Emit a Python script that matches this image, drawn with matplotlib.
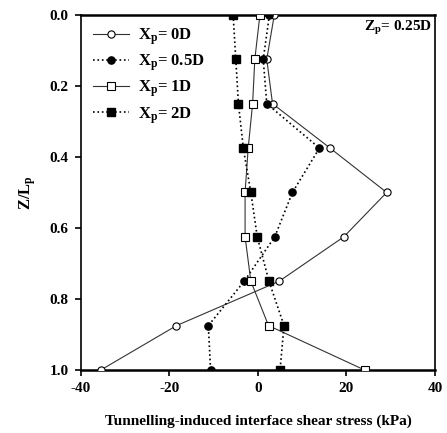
import matplotlib
matplotlib.use("Agg")
import matplotlib.pyplot as plt

depth = [0.0, 0.125, 0.25, 0.375, 0.5, 0.625, 0.75, 0.875, 1.0]
xp_0D = [3.7, 2.0, 3.3, 16.3, 29.1, 19.4, 4.8, -18.4, -35.5]
xp_05D = [2.6, 1.2, 2.0, 13.9, 7.8, 3.8, -3.1, -11.2, -10.7]
xp_1D = [0.45, -0.7, -1.2, -2.2, -2.9, -2.9, -1.6, 2.4, 24.1]
xp_2D = [-5.6, -5.0, -4.4, -3.3, -1.6, -0.15, 2.5, 5.9, 5.0]
labels = [r"$\mathbf{X_p}$= 0D", r"$\mathbf{X_p}$= 0.5D", r"$\mathbf{X_p}$= 1D", r"$\mathbf{X_p}$= 2D"]
x_ticks = [-40, -20, 0, 20, 40]
y_ticks = [0.0, 0.2, 0.4, 0.6, 0.8, 1.0]

plt.rcParams['font.family'] = ['Liberation Serif', 'DejaVu Serif']
plt.rcParams['mathtext.fontset'] = 'custom'
plt.rcParams['mathtext.rm'] = 'Liberation Serif:bold'
plt.rcParams['mathtext.it'] = 'Liberation Serif:bold'
plt.rcParams['mathtext.bf'] = 'Liberation Serif:bold'

fig = plt.figure(figsize=(4.47, 4.33), dpi=100)
ax = fig.add_axes([0.181, 0.1455, 0.792, 0.82])

ax.plot(xp_0D, depth, '-', color='#333333', lw=0.8, marker='o', ms=5.2,
        mfc='white', mec='black', mew=0.8, label=labels[0], zorder=3)
ax.plot(xp_05D, depth, ':', color='black', lw=1.2, marker='o', ms=5.2,
        mfc='black', mec='black', label=labels[1], zorder=3)
ax.plot(xp_1D, depth, '-', color='#333333', lw=0.8, marker='s', ms=5.8,
        mfc='white', mec='black', mew=0.8, label=labels[2], zorder=3)
ax.plot(xp_2D, depth, ':', color='black', lw=1.2, marker='s', ms=5.8,
        mfc='black', mec='black', label=labels[3], zorder=3)

ax.set_xlim(-40, 40)
ax.set_ylim(1.0, 0.0)
ax.set_xticks(x_ticks)
ax.set_yticks(y_ticks)
ax.set_xticklabels([str(t) for t in x_ticks], fontweight='bold', fontsize=11)
ax.set_yticklabels([f"{t:.1f}" for t in y_ticks], fontweight='bold', fontsize=11)
ax.tick_params(direction='out', length=4, width=1.2, top=False, right=False, pad=5)
for side in ['left', 'right']:
    ax.spines[side].set_linewidth(1.2)
for side in ['top', 'bottom']:
    ax.spines[side].set_linewidth(1.8)

ax.set_xlabel("Tunnelling-induced interface shear stress (kPa)", fontweight='bold',
              fontsize=11, labelpad=14)
ax.set_ylabel(r"Z/L$_\mathbf{p}$", fontweight='bold', fontsize=12, labelpad=8)

ax.text(0.993, 0.988, r"Z$_\mathbf{p}$= 0.25D", transform=ax.transAxes, ha='right', va='top',
        fontweight='bold', fontsize=11)

leg = ax.legend(loc='upper left', frameon=False, fontsize=12, handlelength=2.2,
                borderaxespad=0.3, labelspacing=0.33, handletextpad=0.55,
                bbox_to_anchor=(0.0, 1.0))
for t in leg.get_texts():
    t.set_fontweight('bold')

fig.savefig("out.png", dpi=100)
